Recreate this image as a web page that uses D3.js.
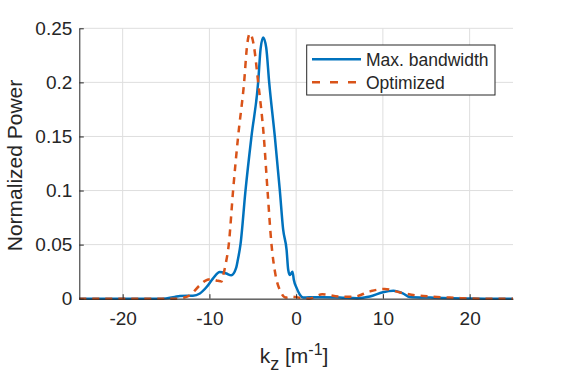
<!DOCTYPE html>
<html>
<head>
<meta charset="utf-8">
<script src="https://cdn.jsdelivr.net/npm/d3@7"></script>
<style>
  body { margin: 0; background: #fff; }
  text { font-family: "Liberation Sans", Arial, Helvetica, sans-serif; fill: #262626; }
</style>
</head>
<body>
<div id="chart"></div>
<script>
// data
const kzBand = [-25, -16, -15, -14, -13.4, -12.5, -11.9, -11.1, -10.3, -9.6, -8.8, -8.05, -7.48, -6.9, -6.72, -6.42, -5.84,
    -5.15, -4.38, -4.1, -3.8, -3.45, -3.11, -2.46, -1.88, -1.5, -1.1, -0.92, -0.73, -0.42, -0.27,
    0.05, 0.43, 0.8, 1.5, 3, 5, 7, 8.5, 10, 11.2, 12.3, 13.1, 15.5, 18, 20, 22, 25];
const powBand = [0, 0, 0.0003, 0.0015, 0.0026, 0.0028, 0.0028, 0.0048, 0.011, 0.0186, 0.0248, 0.0233, 0.0217, 0.029, 0.036, 0.05, 0.1,
    0.15, 0.2, 0.231, 0.2415, 0.232, 0.2, 0.15, 0.1, 0.064, 0.045, 0.027, 0.022, 0.025, 0.0175,
    0.01, 0.0037, 0.001, 0.0014, 0.0014, 0.0012, 0.0004, 0.002, 0.006, 0.0074, 0.005, 0.0016, 0.001, 0.0005, 0.0002, 0, 0];

const kzOpt = [-25, -14, -13, -12.3, -11.1, -10.5, -9.8, -9.0, -8.6, -8.4, -8.1, -7.77, -7.27, -6.69, -6.0,
    -5.65, -5.34, -4.9, -4.38, -3.73, -3.3, -2.84, -2.38, -1.88, -1.7, -1.2, -0.5, 0.3, 1.5, 3, 5, 6.6, 8.6,
    10.2, 12.1, 13.9, 15.5, 17.7, 19, 21, 25];
const powOpt = [0, 0, 0.0008, 0.003, 0.0125, 0.0165, 0.018, 0.0165, 0.016, 0.022, 0.033, 0.05, 0.1, 0.15, 0.2,
    0.2346, 0.2452, 0.235, 0.2, 0.15, 0.1, 0.05, 0.022, 0.008, 0.005, 0.001, 0.002, 0.001, 0, 0.004, 0.002, 0.0018, 0.007,
    0.009, 0.0055, 0.003, 0.002, 0.001, 0.0005, 0, 0];

const xTicks = [-20, -10, 0, 10, 20];
const yTicks = [0, 0.05, 0.1, 0.15, 0.2, 0.25];
const seriesNames = ["Max. bandwidth", "Optimized"];

const width = 567, height = 378;
const plotLeft = 79.3, plotRight = 513, plotTop = 28.3, plotBottom = 298.7;

const svg = d3.select('#chart')
    .append('svg')
    .attr('width', width)
    .attr('height', height);

const x = d3.scaleLinear().domain([-25, 25]).range([plotLeft, plotRight]);
const y = d3.scaleLinear().domain([0, 0.25]).range([plotBottom, plotTop]);

// grid
svg.append('g')
    .selectAll('line')
    .data(xTicks)
    .enter()
    .append('line')
    .attr('x1', d => x(d)).attr('x2', d => x(d))
    .attr('y1', plotTop).attr('y2', plotBottom)
    .attr('stroke', '#dedede').attr('stroke-width', 1);

svg.append('g')
    .selectAll('line')
    .data(yTicks)
    .enter()
    .append('line')
    .attr('x1', plotLeft).attr('x2', plotRight)
    .attr('y1', d => y(d)).attr('y2', d => y(d))
    .attr('stroke', '#dedede').attr('stroke-width', 1);

// curves
const line = d3.line()
    .x(d => x(d[0]))
    .y(d => y(d[1]))
    .curve(d3.curveMonotoneX);

svg.append('path')
    .datum(d3.zip(kzBand, powBand))
    .attr('d', line)
    .attr('fill', 'none')
    .attr('stroke', '#0072BD')
    .attr('stroke-width', 2.5);

svg.append('path')
    .datum(d3.zip(kzOpt, powOpt))
    .attr('d', line)
    .attr('fill', 'none')
    .attr('stroke', '#D95319')
    .attr('stroke-width', 2.5)
    .attr('stroke-dasharray', '7,6');

// axes (ticks pointing inward)
const xAxis = svg.append('g')
    .attr('transform', `translate(0,${plotBottom})`)
    .call(d3.axisBottom(x).tickValues(xTicks).tickSizeInner(-4.5).tickSizeOuter(0).tickPadding(13)
        .tickFormat(d => String(d)));

const yAxis = svg.append('g')
    .attr('transform', `translate(${plotLeft},0)`)
    .call(d3.axisLeft(y).tickValues(yTicks).tickSizeInner(-4.5).tickSizeOuter(0).tickPadding(7)
        .tickFormat(d => String(+d.toFixed(2))));

[xAxis, yAxis].forEach(a => {
    a.select('.domain').attr('stroke', '#262626').attr('stroke-width', 1);
    a.selectAll('.tick line').attr('stroke', '#262626');
    a.selectAll('.tick text')
        .style('font-size', '19px')
        .style('font-family', '"Liberation Sans", Arial, sans-serif')
        .attr('fill', '#262626');
});

// axis labels
const xl = svg.append('text')
    .attr('x', 294)
    .attr('y', 363)
    .attr('text-anchor', 'middle')
    .style('font-size', '21px');
xl.append('tspan').text('k');
xl.append('tspan').attr('dy', 7).style('font-size', '18px').text('z');
xl.append('tspan').attr('dy', -7).text(' [m');
xl.append('tspan').attr('dy', -8).style('font-size', '16px').text('-1');
xl.append('tspan').attr('dy', 8).text(']');

svg.append('text')
    .attr('transform', `translate(22,${(plotTop + plotBottom) / 2 + 2}) rotate(-90)`)
    .attr('text-anchor', 'middle')
    .style('font-size', '21px')
    .text('Normalized Power');

// legend
const lg = svg.append('g');
lg.append('rect')
    .attr('x', 306.7).attr('y', 45)
    .attr('width', 188.3).attr('height', 50)
    .attr('fill', '#fff')
    .attr('stroke', '#262626')
    .attr('stroke-width', 1);

const lgRows = lg.selectAll('g.row')
    .data(seriesNames)
    .enter()
    .append('g')
    .attr('class', 'row')
    .attr('transform', (d, i) => `translate(0,${59.3 + i * 23})`);

lgRows.append('line')
    .attr('x1', 312).attr('x2', 361)
    .attr('stroke', (d, i) => i === 0 ? '#0072BD' : '#D95319')
    .attr('stroke-width', 2.5)
    .attr('stroke-dasharray', (d, i) => i === 0 ? null : '8,10');

lgRows.append('text')
    .attr('x', 366)
    .attr('y', 6.5)
    .style('font-size', '17.5px')
    .text(d => d);
</script>
</body>
</html>
